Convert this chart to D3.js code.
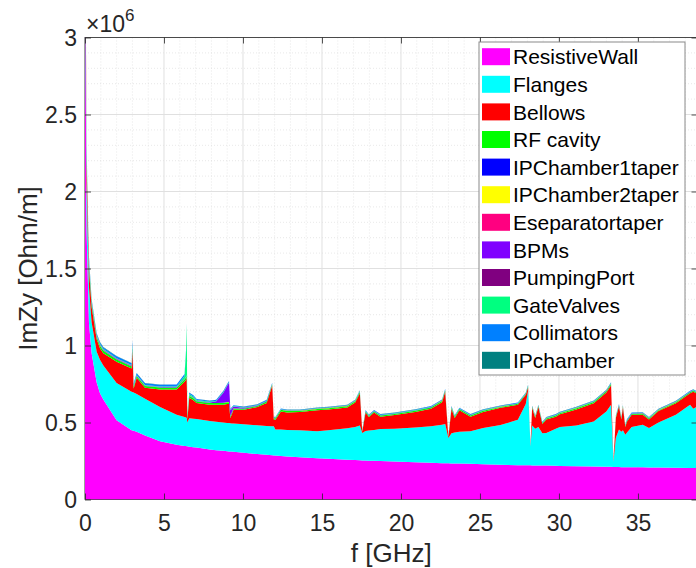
<!DOCTYPE html>
<html><head><meta charset="utf-8">
<script src="https://cdn.jsdelivr.net/npm/d3@7"></script>
<style>body{margin:0;background:#fff}svg{display:block}text{font-family:"Liberation Sans",Arial,Helvetica,sans-serif}</style>
</head><body><svg id="chart" width="696" height="568"></svg>
<script>
// frequency samples [GHz]
const freq = [0,0.1,0.25,0.42,0.74,0.95,1.16,2.0,2.95,3.0,
3.08,3.27,3.8,4.75,5.8,6.3,6.4,6.44,6.48,6.6,
6.86,7.07,7.9,8.3,8.76,9.0,9.12,9.2,9.3,9.4,
10.05,10.9,11.5,11.85,11.95,12.05,12.4,12.8,13.6,14.7,
15.4,16.6,17.1,17.4,17.55,17.76,17.97,18.3,18.7,19.6,
20.9,21.9,22.6,22.8,23.0,23.2,23.4,23.7,24.4,25.2,
26.3,27.4,27.9,28.05,28.2,28.3,28.5,28.7,28.95,29.2,
29.8,30.06,31.1,32.2,33.0,33.3,33.45,33.6,33.8,33.95,
34.05,34.2,34.3,34.6,35.3,35.7,36.3,37.4,38.3,38.5,
38.7];
// series values, units of 1e6 Ohm/m
const resistiveWall = [3.6,1.75,1.15,0.95,0.76,0.69,0.65,0.514,0.45,0.448,
0.446,0.44,0.415,0.378,0.355,0.348,0.347,0.346,0.345,0.343,
0.34,0.337,0.325,0.32,0.316,0.313,0.312,0.311,0.311,0.31,
0.303,0.295,0.29,0.287,0.286,0.285,0.283,0.28,0.275,0.268,
0.264,0.258,0.256,0.255,0.254,0.253,0.252,0.251,0.25,0.246,
0.242,0.238,0.236,0.235,0.235,0.234,0.234,0.233,0.232,0.229,
0.226,0.223,0.222,0.222,0.222,0.221,0.221,0.22,0.22,0.22,
0.219,0.218,0.216,0.214,0.212,0.212,0.211,0.211,0.211,0.21,
0.21,0.21,0.21,0.209,0.209,0.208,0.207,0.206,0.205,0.205,
0.205];
const flanges = [0.40,0.30,0.23,0.20,0.20,0.217,0.22,0.242,0.25,0.25,
0.249,0.245,0.24,0.222,0.195,0.187,0.185,0.184,0.155,0.185,
0.185,0.185,0.185,0.185,0.184,0.184,0.184,0.184,0.183,0.183,
0.185,0.187,0.188,0.188,0.189,0.17,0.171,0.172,0.175,0.175,
0.186,0.204,0.214,0.225,0.178,0.192,0.196,0.201,0.208,0.214,
0.226,0.238,0.25,0.255,0.165,0.196,0.201,0.207,0.211,0.236,
0.257,0.295,0.398,0.488,0.123,0.259,0.239,0.25,0.21,0.212,
0.241,0.252,0.264,0.293,0.36,0.404,0.034,0.189,0.243,0.23,
0.24,0.21,0.224,0.261,0.277,0.257,0.293,0.345,0.411,0.385,
0.395];
const bellows = [0.20,0.15,0.12,0.10,0.08,0.075,0.08,0.139,0.15,0.272,
0.025,0.105,0.07,0.115,0.165,0.23,0.248,0.26,0.02,0.132,
0.12,0.105,0.106,0.111,0.116,0.123,0.124,0.035,0.061,0.09,
0.095,0.118,0.149,0.265,0.045,0.063,0.118,0.113,0.118,0.137,
0.135,0.136,0.16,0.21,0.008,0.12,0.087,0.113,0.08,0.088,
0.10,0.114,0.146,0.21,0.005,0.16,0.095,0.14,0.095,0.103,
0.112,0.097,0.06,0.018,0.005,0.115,0.07,0.13,0.06,0.088,
0.078,0.083,0.105,0.118,0.123,0.126,0.005,0.13,0.151,0.08,
0.15,0.05,0.071,0.08,0.064,0.055,0.075,0.074,0.074,0.11,
0.09];
const rfCavity = [0.08,0.04,0.03,0.02,0.016,0.016,0.016,0.014,0.014,0.02,
0.014,0.012,0.012,0.012,0.012,0.014,0.014,0.014,0.012,0.012,
0.012,0.01,0.01,0.01,0.012,0.012,0.012,0.01,0.01,0.008,
0.007,0.007,0.01,0.007,0.008,0.008,0.01,0.01,0.007,0.008,
0.008,0.008,0.008,0.008,0.004,0.007,0.007,0.007,0.007,0.007,
0.008,0.008,0.008,0.008,0.004,0.007,0.007,0.007,0.007,0.008,
0.006,0.006,0.005,0.005,0.003,0.006,0.006,0.006,0.006,0.006,
0.007,0.007,0.008,0.008,0.008,0.008,0.003,0.006,0.006,0.006,
0.006,0.006,0.007,0.006,0.007,0.006,0.005,0.007,0.007,0.006,
0.006];
const ipChamber1Taper = [0.003,0.002,0.002,0.001,0.001,0.001,0.001,0.001,0.001,0.0003,
0.0003,0.0003,0.0003,0.0003,0.0003,0.0003,0.0003,0.0003,0.0003,0.0003,
0.0003,0.0003,0.0003,0.0003,0.0003,0.0003,0.0003,0.0003,0.0003,0.0003,
0.0003,0.0003,0.0003,0.0003,0.0003,0.0003,0.0003,0.0003,0.0003,0.0003,
0.0003,0.0003,0.0003,0.0003,0.0003,0.0003,0.0003,0.0003,0.0003,0.0003,
0.0003,0.0003,0.0003,0.0003,0.0003,0.0003,0.0003,0.0003,0.0003,0.0003,
0.0003,0.0003,0.0003,0.0003,0.0003,0.0003,0.0003,0.0003,0.0003,0.0003,
0.0003,0.0003,0.0003,0.0003,0.0003,0.0003,0.0003,0.0003,0.0003,0.0003,
0.0003,0.0003,0.0003,0.0003,0.0003,0.0003,0.0003,0.0003,0.0003,0.0003,
0.0003];
const ipChamber2Taper = [0.003,0.002,0.002,0.001,0.001,0.001,0.001,0.001,0.001,0.0003,
0.0003,0.0003,0.0003,0.0003,0.0003,0.0003,0.0003,0.0003,0.0003,0.0003,
0.0003,0.0003,0.0003,0.0003,0.0003,0.0003,0.0003,0.0003,0.0003,0.0003,
0.0003,0.0003,0.0003,0.0003,0.0003,0.0003,0.0003,0.0003,0.0003,0.0003,
0.0003,0.0003,0.0003,0.0003,0.0003,0.0003,0.0003,0.0003,0.0003,0.0003,
0.0003,0.0003,0.0003,0.0003,0.0003,0.0003,0.0003,0.0003,0.0003,0.0003,
0.0003,0.0003,0.0003,0.0003,0.0003,0.0003,0.0003,0.0003,0.0003,0.0003,
0.0003,0.0003,0.0003,0.0003,0.0003,0.0003,0.0003,0.0003,0.0003,0.0003,
0.0003,0.0003,0.0003,0.0003,0.0003,0.0003,0.0003,0.0003,0.0003,0.0003,
0.0003];
const eseparatorTaper = [0.003,0.002,0.002,0.001,0.001,0.001,0.001,0.001,0.001,0.0003,
0.0003,0.0003,0.0003,0.0003,0.0003,0.0003,0.0003,0.0003,0.0003,0.0003,
0.0003,0.0003,0.0003,0.0003,0.0003,0.0003,0.0003,0.0003,0.0003,0.0003,
0.0003,0.0003,0.0003,0.0003,0.0003,0.0003,0.0003,0.0003,0.0003,0.0003,
0.0003,0.0003,0.0003,0.0003,0.0003,0.0003,0.0003,0.0003,0.0003,0.0003,
0.0003,0.0003,0.0003,0.0003,0.0003,0.0003,0.0003,0.0003,0.0003,0.0003,
0.0003,0.0003,0.0003,0.0003,0.0003,0.0003,0.0003,0.0003,0.0003,0.0003,
0.0003,0.0003,0.0003,0.0003,0.0003,0.0003,0.0003,0.0003,0.0003,0.0003,
0.0003,0.0003,0.0003,0.0003,0.0003,0.0003,0.0003,0.0003,0.0003,0.0003,
0.0003];
const bpms = [0.01,0.005,0.004,0.003,0.002,0.002,0.002,0.002,0.002,0.002,
0.002,0.002,0.002,0.002,0.002,0.002,0.002,0.002,0.002,0.002,
0.002,0.002,0.003,0.01,0.065,0.105,0.125,0.038,0.024,0.012,
0.004,0.002,0.001,0.001,0.001,0.001,0.001,0.001,0.001,0.001,
0.001,0.001,0.001,0.001,0.001,0.001,0.001,0.001,0.001,0.001,
0.001,0.001,0.001,0.001,0.001,0.001,0.001,0.001,0.001,0.001,
0.001,0.001,0.001,0.001,0.001,0.001,0.001,0.001,0.001,0.001,
0.001,0.001,0.001,0.001,0.001,0.001,0.001,0.001,0.001,0.001,
0.001,0.001,0.001,0.001,0.001,0.001,0.001,0.001,0.001,0.001,
0.001];
const pumpingPort = [0.006,0.004,0.003,0.002,0.002,0.002,0.002,0.001,0.001,0.0005,
0.0005,0.0005,0.0005,0.0005,0.0005,0.0005,0.0005,0.0005,0.0005,0.0005,
0.0005,0.0005,0.0005,0.0005,0.0005,0.0005,0.0005,0.0005,0.0005,0.0005,
0.0005,0.0005,0.0005,0.0005,0.0005,0.0005,0.0005,0.0005,0.0005,0.0005,
0.0005,0.0005,0.0005,0.0005,0.0005,0.0005,0.0005,0.0005,0.0005,0.0005,
0.0005,0.0005,0.0005,0.0005,0.0005,0.0005,0.0005,0.0005,0.0005,0.0005,
0.0005,0.0005,0.0005,0.0005,0.0005,0.0005,0.0005,0.0005,0.0005,0.0005,
0.0005,0.0005,0.0005,0.0005,0.0005,0.0005,0.0005,0.0005,0.0005,0.0005,
0.0005,0.0005,0.0005,0.0005,0.0005,0.0005,0.0005,0.0005,0.0005,0.0005,
0.0005];
const gateValves = [0.03,0.012,0.01,0.006,0.004,0.004,0.004,0.003,0.003,0.01,
0.005,0.003,0.003,0.003,0.004,0.02,0.17,0.33,0.012,0.01,
0.008,0.005,0.004,0.003,0.003,0.003,0.003,0.003,0.003,0.002,
0.002,0.002,0.002,0.003,0.002,0.002,0.002,0.002,0.002,0.002,
0.002,0.002,0.002,0.003,0.002,0.002,0.002,0.002,0.002,0.002,
0.002,0.002,0.002,0.003,0.002,0.002,0.002,0.002,0.002,0.002,
0.002,0.002,0.002,0.003,0.002,0.002,0.002,0.002,0.002,0.002,
0.002,0.002,0.002,0.002,0.002,0.003,0.002,0.002,0.002,0.002,
0.002,0.002,0.002,0.002,0.002,0.002,0.002,0.002,0.002,0.002,
0.002];
const collimators = [0.05,0.025,0.02,0.012,0.01,0.01,0.01,0.012,0.012,0.03,
0.012,0.012,0.012,0.012,0.012,0.012,0.012,0.01,0.008,0.008,
0.008,0.007,0.007,0.007,0.007,0.007,0.007,0.006,0.006,0.005,
0.005,0.005,0.006,0.005,0.004,0.004,0.004,0.004,0.004,0.004,
0.004,0.004,0.004,0.005,0.004,0.004,0.004,0.004,0.004,0.004,
0.004,0.004,0.004,0.005,0.004,0.004,0.004,0.004,0.004,0.004,
0.004,0.004,0.004,0.005,0.004,0.004,0.004,0.004,0.004,0.004,
0.004,0.004,0.004,0.004,0.004,0.005,0.004,0.004,0.004,0.004,
0.004,0.004,0.004,0.004,0.004,0.004,0.004,0.004,0.004,0.004,
0.004];
const ipChamber = [0.015,0.008,0.006,0.004,0.003,0.003,0.003,0.002,0.002,0.001,
0.001,0.001,0.001,0.001,0.001,0.001,0.001,0.001,0.001,0.001,
0.001,0.001,0.001,0.001,0.001,0.001,0.001,0.001,0.001,0.001,
0.001,0.001,0.001,0.001,0.001,0.001,0.001,0.001,0.001,0.001,
0.001,0.001,0.001,0.001,0.001,0.001,0.001,0.001,0.001,0.001,
0.001,0.001,0.001,0.001,0.001,0.001,0.001,0.001,0.001,0.001,
0.001,0.001,0.001,0.001,0.001,0.001,0.001,0.001,0.001,0.001,
0.001,0.001,0.001,0.001,0.001,0.001,0.001,0.001,0.001,0.001,
0.001,0.001,0.001,0.001,0.001,0.001,0.001,0.001,0.001,0.001,
0.001];

const seriesNames = ["ResistiveWall","Flanges","Bellows","RF cavity","IPChamber1taper","IPChamber2taper","Eseparatortaper","BPMs","PumpingPort","GateValves","Collimators","IPchamber"];
const seriesValues = [resistiveWall,flanges,bellows,rfCavity,ipChamber1Taper,ipChamber2Taper,eseparatorTaper,bpms,pumpingPort,gateValves,collimators,ipChamber];
const seriesColors = ["#FF00FF","#00FFFF","#FF0000","#00FF00","#0000FF","#FFFF00","#FF0080","#8000FF","#800080","#00FF80","#0080FF","#008080"];
const xTicks = [0,5,10,15,20,25,30,35];
const xTickLabels = ["0","5","10","15","20","25","30","35"];
const yTicks = [0,0.5,1,1.5,2,2.5,3];
const yTickLabels = ["0","0.5","1","1.5","2","2.5","3"];

const L = 85, R = 697.5, T = 37.5, B = 499.5;
const svg = d3.select("#chart");
const x = d3.scaleLinear().domain([0, 38.77]).range([L, R]);
const y = d3.scaleLinear().domain([0, 3]).range([B, T]);

svg.append("defs").append("clipPath").attr("id","clip")
  .append("rect").attr("x",L).attr("y",T).attr("width",R-L).attr("height",B-T);

// grid
const grid = svg.append("g");
const minorX = d3.range(1, 39).filter(v => v % 5 !== 0);
const minorY = d3.range(1, 30).filter(v => v % 5 !== 0).map(v => v/10);
grid.selectAll(".mx").data(minorX).join("line")
  .attr("x1", d=>x(d)).attr("x2", d=>x(d)).attr("y1",T).attr("y2",B)
  .attr("stroke","#d8d8d8").attr("stroke-width",0.6).attr("stroke-dasharray","1,2");
grid.selectAll(".my").data(minorY).join("line")
  .attr("y1", d=>y(d)).attr("y2", d=>y(d)).attr("x1",L).attr("x2",R)
  .attr("stroke","#d8d8d8").attr("stroke-width",0.6).attr("stroke-dasharray","1,2");
grid.selectAll(".gx").data(xTicks).join("line")
  .attr("x1", d=>x(d)).attr("x2", d=>x(d)).attr("y1",T).attr("y2",B)
  .attr("stroke","#e0e0e0").attr("stroke-width",1);
grid.selectAll(".gy").data(yTicks).join("line")
  .attr("y1", d=>y(d)).attr("y2", d=>y(d)).attr("x1",L).attr("x2",R)
  .attr("stroke","#e0e0e0").attr("stroke-width",1);

// box
svg.append("rect").attr("x",L).attr("y",T).attr("width",R-L).attr("height",B-T)
  .attr("fill","none").attr("stroke","#262626").attr("stroke-width",0.8);

// stacked areas
const rows = freq.map((f,i) => {
  const r = {f};
  seriesNames.forEach((n,k) => r[n] = seriesValues[k][i]);
  return r;
});
const stacked = d3.stack().keys(seriesNames)(rows);
const area = d3.area().x(d => x(d.data.f)).y0(d => y(d[0])).y1(d => y(d[1])).curve(d3.curveLinear);
svg.append("g").attr("clip-path","url(#clip)")
  .selectAll("path").data(stacked).join("path")
  .attr("d", area).attr("fill", (d,i) => seriesColors[i]).attr("stroke","none");

// axes
const fontFam = '"Liberation Sans", Arial, Helvetica, sans-serif';
function styleAxis(g){
  g.attr("font-size", null).attr("font-family", null);
  g.select(".domain").remove();
  g.selectAll("line").attr("stroke","#262626").attr("stroke-width",0.8);
  g.selectAll("text").attr("fill","#262626").attr("font-size",23).attr("font-family",fontFam);
}
const gx = svg.append("g").attr("transform",`translate(0,${B})`)
  .call(d3.axisBottom(x).tickValues(xTicks).tickSize(-6).tickFormat((d,i)=>xTickLabels[i]));
styleAxis(gx);
gx.selectAll("text").attr("y",31.5).attr("dy",null);
const gxt = svg.append("g").attr("transform",`translate(0,${T})`)
  .call(d3.axisTop(x).tickValues(xTicks).tickSize(-6).tickFormat(""));
styleAxis(gxt);
const gy = svg.append("g").attr("transform",`translate(${L},0)`)
  .call(d3.axisLeft(y).tickValues(yTicks).tickSize(-6).tickPadding(8).tickFormat((d,i)=>yTickLabels[i]));
styleAxis(gy);
gy.selectAll("text").attr("dy","0.36em");
const gyr = svg.append("g").attr("transform",`translate(${R},0)`)
  .call(d3.axisRight(y).tickValues(yTicks).tickSize(-6).tickFormat(""));
styleAxis(gyr);

// exponent
const ex = svg.append("text").attr("x",86).attr("y",31.5).attr("fill","#262626")
  .attr("font-size",23).attr("font-family",fontFam);
ex.append("tspan").text("\u00d710");
ex.append("tspan").attr("font-size",17).attr("dy",-11).text("6");

// axis labels
svg.append("text").attr("x",(L+R)/2).attr("y",561.5).attr("text-anchor","middle")
  .attr("fill","#262626").attr("font-size",26).attr("font-family",fontFam).text("f [GHz]");
svg.append("text").attr("transform",`translate(37,${(T+B)/2}) rotate(-90)`).attr("text-anchor","middle")
  .attr("fill","#262626").attr("font-size",26).attr("font-family",fontFam).text("ImZy [Ohm/m]");

// legend
const lg = svg.append("g");
lg.append("rect").attr("x",479).attr("y",42).attr("width",206).attr("height",333)
  .attr("fill","#fff").attr("stroke","#8a8a8a").attr("stroke-width",1);
const item = lg.selectAll(".it").data(seriesNames).join("g")
  .attr("transform",(d,i)=>`translate(0,${56.7 + i*27.6})`);
item.append("rect").attr("x",482).attr("y",-8.5).attr("width",28).attr("height",17)
  .attr("fill",(d,i)=>seriesColors[i]);
item.append("text").attr("x",513).attr("y",7.7).attr("font-size",21).attr("font-family",fontFam)
  .attr("fill","#000").text(d=>d);
</script>
</body></html>
